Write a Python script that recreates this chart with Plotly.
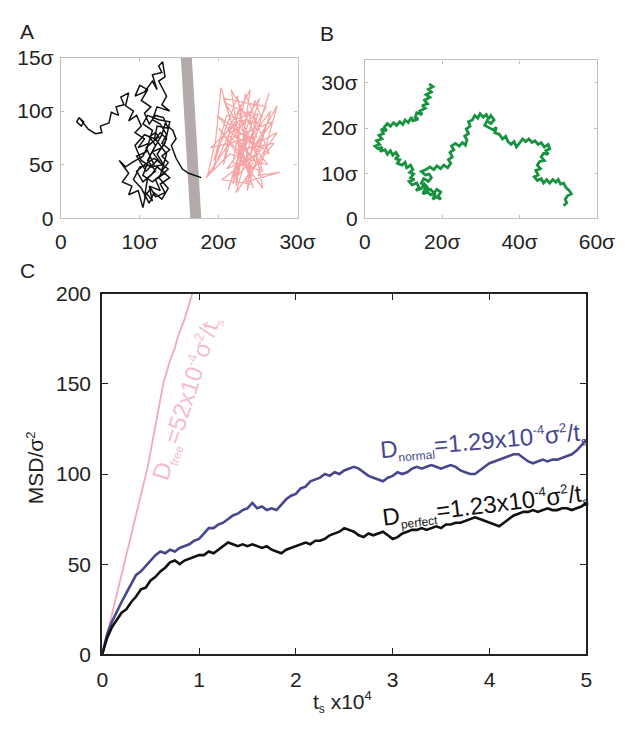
import plotly.graph_objects as go

FONT = "Liberation Sans, Arial, sans-serif"

# ---------------- Panel A : two confined random walks + barrier ----------------
walk_black = [(2.3,9.4),(2.0,9.0),(2.6,8.6),(2.9,9.0),(2.3,9.4),(3.5,8.3),(4.4,7.9),(5.2,8.0),(5.0,8.6),
    (6.1,8.9),(6.4,9.9),(7.3,9.6),(7.0,10.4),(8.0,10.6),(7.6,11.3),(8.6,11.7),(8.2,10.5),(9.2,10.0),
    (8.6,9.1),(9.6,9.6),(10.2,8.6),(9.4,8.0),(10.6,7.4),(9.8,6.6),(11.2,7.0),(10.4,5.8),(9.0,5.2),
    (8.2,4.8),(7.4,5.4),(8.6,4.2),(7.8,3.4),(9.0,3.0),(8.6,2.2),(9.8,2.6),(10.4,1.0),(10.8,2.4),
    (11.6,1.6),(11.2,3.0),(12.6,2.6),(12.0,3.6),(13.2,4.2),(12.2,4.8),(11.4,4.0),(10.4,3.4),(9.6,4.4),
    (10.6,5.0),(11.8,5.6),(12.6,5.2),(11.6,6.2),(12.8,6.6),(13.4,7.4),(12.6,8.0),(11.8,7.2),(12.2,8.6),
    (13.6,8.4),(13.0,9.4),(12.0,9.6),(11.2,8.8),(10.6,9.8),(11.4,10.4),(10.2,11.0),(11.0,12.0),(10.0,12.4),
    (9.4,11.4),(10.6,11.8),(11.6,12.8),(12.2,12.0),(11.6,13.4),(12.8,13.6),(12.4,14.2),(12.9,14.6),
    (13.2,13.2),(12.4,12.8),(13.4,11.4),(12.8,10.6),(13.8,10.0),(12.2,10.4),(11.6,9.2),(12.6,8.8),
    (13.4,7.8),(12.8,7.0),(13.8,6.4),(12.8,5.8),(13.6,5.2),(12.8,4.4),(13.8,3.8),(12.6,3.2),(13.2,2.4),
    (12.0,2.0),(11.4,2.8),(10.6,2.0),(11.0,3.8),(12.0,4.4),(11.0,5.4),(12.0,6.8),(11.2,7.6),(12.0,8.0),
    (12.4,7.6),(10.8,6.6),(11.8,5.0),(10.0,4.8),(9.2,3.6),(10.2,2.8),(11.2,1.4),(11.8,2.4),(12.8,1.8),
    (13.6,2.8),(12.4,3.8),(13.6,4.6),(12.2,5.4),(10.8,4.4),(9.6,5.8),(10.8,6.2),(11.6,8.2),(10.4,8.8),
    (11.0,9.6),(12.4,9.2),(13.8,9.0),(13.2,7.0),(12.2,6.0),(13.0,5.0),(11.4,4.8),(10.2,5.4),(9.4,6.8),
    (10.6,7.8),(12.0,7.4),(13.4,6.0),(12.6,4.0),(11.6,3.4),(10.4,4.0),(11.4,6.0),(12.8,7.8),(13.2,8.8),
    (14.2,8.2),(14.6,7.4),(14.0,6.8),(14.6,5.6),(15.4,4.6),(16.2,4.2),(17.8,3.8)]

walk_pink = [(18.6,4.0),(19.6,7.2),(20.3,12.2),(21.6,9.0),(20.6,5.0),(22.8,10.6),(22.2,3.0),(23.6,8.0),
    (21.2,2.6),(24.6,11.0),(25.4,9.4),(26.4,11.7),(24.0,6.0),(27.4,10.5),(25.0,4.0),(27.8,4.3),(23.4,3.4),
    (26.0,8.6),(21.0,9.6),(19.4,5.4),(22.4,11.4),(24.2,3.2),(20.4,3.6),(25.8,6.6),(22.0,7.6),(26.8,9.0),
    (23.0,5.0),(21.6,12.0),(24.8,7.6),(19.0,6.6),(23.8,10.0),(25.6,2.8),(20.0,8.4),(24.4,4.6),(27.0,7.0),
    (22.6,6.4),(21.8,3.2),(25.2,11.2),(23.2,9.0),(18.4,3.8),(21.4,6.0),(26.2,5.0),(22.8,8.4),(20.8,10.8),
    (24.6,9.4),(23.6,2.6),(26.6,10.0),(21.0,4.6),(25.0,6.0),(22.4,4.0),(24.0,12.0),(20.2,7.0),
    (19.2,4.4),(22.0,9.0),(24.4,2.8),(20.6,11.2),(26.0,10.4),(23.0,6.2),(27.4,8.0),(22.2,2.4),(25.0,9.8),
    (21.2,7.8),(24.6,5.4),(19.8,9.6),(26.4,6.0),(23.4,11.6),(21.8,5.2),(25.6,4.4),(22.6,9.8)]

barrier_x = [15.9, 17.1]
barrier_y = [15.0, 0.0]

a_xticks = [0, 10, 20, 30]
a_xtext = ["0", "10σ", "20σ", "30σ"]
a_yticks = [0, 5, 10, 15]
a_ytext = ["0", "5σ", "10σ", "15σ"]

# ---------------- Panel B : free random walk ----------------
walk_green = [(16.6,29.8),(17.6,29.2),(16.4,28.6),(17.2,28.0),(15.8,27.4),(16.8,26.8),(15.4,26.2),(16.2,25.4),
    (14.8,25.0),(15.6,24.4),(14.2,23.8),(14.8,23.0),(13.4,23.4),(13.0,22.4),(13.8,22.0),(12.4,21.6),(12.0,22.4),
    (11.2,21.2),(10.4,21.8),(9.8,20.8),(9.0,21.4),(8.2,20.6),(7.4,21.2),(6.6,20.4),(5.8,21.0),(5.0,20.2),
    (5.6,19.4),(4.2,19.8),(4.8,18.8),(3.6,18.4),(4.4,17.6),(3.0,17.2),(3.8,16.4),(2.6,16.0),(3.4,15.4),
    (4.4,15.8),(4.0,14.8),(5.2,15.2),(5.8,14.2),(6.6,15.0),(7.2,14.0),(8.0,14.6),(8.6,13.8),(7.8,13.2),
    (9.0,13.0),(8.4,12.2),(9.6,11.8),(10.4,12.4),(10.8,11.2),(11.8,11.8),(12.4,10.8),(11.6,10.2),(12.6,9.8),
    (11.8,9.0),(12.8,8.6),(11.4,8.2),(12.2,7.4),(13.4,7.8),(14.0,6.8),(13.2,6.2),(14.6,6.6),(15.4,7.6),
    (16.2,6.8),(15.6,6.0),(17.0,6.4),(17.8,5.6),(18.6,6.4),(19.6,5.8),(19.0,5.0),(19.6,4.2),(18.4,4.8),
    (17.6,4.2),(18.2,5.6),(17.0,5.2),(16.2,5.8),(15.0,5.4),(15.8,7.2),(14.6,7.8),(15.2,8.8),(16.4,8.2),
    (17.2,9.0),(16.6,9.8),(15.6,9.6),(14.6,10.4),(15.8,10.8),(16.8,11.4),(17.8,10.8),(18.6,11.6),(19.6,11.0),
    (20.4,11.8),(21.4,11.2),(22.2,12.2),(21.6,13.0),(22.6,13.6),(22.0,14.6),(23.0,15.2),(22.4,16.0),
    (23.4,16.6),(24.4,16.0),(25.2,16.8),(26.0,16.2),(26.4,17.4),(25.8,18.2),(26.8,18.8),(26.2,19.8),
    (27.2,20.4),(26.8,21.4),(27.8,21.8),(28.4,22.8),(29.2,22.2),(29.8,23.2),(30.6,22.4),(31.4,23.0),
    (32.0,22.0),(32.6,22.8),(33.4,21.8),(32.6,21.0),(31.6,21.6),(31.0,20.6),(32.0,20.2),(33.2,19.6),
    (34.0,20.2),(33.6,19.0),(34.8,18.6),(35.6,17.6),(36.4,18.2),(37.0,17.0),(37.8,16.4),(38.6,17.0),
    (39.2,15.8),(40.0,16.6),(40.8,17.6),(41.6,17.0),(42.4,17.6),(43.2,16.8),(44.0,17.2),(44.8,16.4),
    (45.6,16.8),(46.4,15.8),(47.4,16.4),(47.8,15.4),(46.8,15.0),(47.4,14.2),(46.2,14.4),(45.6,13.6),
    (46.4,12.8),(45.2,12.6),(44.6,11.8),(45.4,11.0),(44.2,10.6),(44.8,9.6),(43.8,9.2),(44.6,8.4),
    (45.6,8.8),(46.2,7.8),(47.0,8.6),(47.8,7.8),(48.6,8.6),(49.4,8.0),(50.0,8.6),(50.6,7.6),(51.4,7.8),
    (52.0,6.8),(52.8,6.2),(53.4,5.4),(52.4,5.0),(51.8,4.2),(52.2,3.4),(51.4,2.8)]

b_xticks = [0, 20, 40, 60]
b_xtext = ["0", "20σ", "40σ", "60σ"]
b_yticks = [0, 10, 20, 30]
b_ytext = ["0", "10σ", "20σ", "30σ"]

# ---------------- Panel C : MSD curves ----------------
t_free = [0, 0.1, 0.2, 0.3, 0.4, 0.47, 0.55, 0.63, 0.7, 0.75, 0.78, 0.85, 0.93, 0.95]
msd_free = [0, 22, 44, 66, 88, 104, 127, 150, 163, 170, 176, 186, 200, 203]

t_grid = [i * 0.05 for i in range(101)]
msd_perfect = [0, 9, 15, 19, 23, 25, 29, 32, 36, 37, 41, 43, 46, 48, 51, 52, 50, 52, 53, 54,
    55, 55, 57, 56, 58, 60, 62, 61, 60, 61, 60, 61, 60, 59, 60, 58, 57, 56, 58, 59,
    60, 61, 62, 61, 63, 63, 64, 66, 67, 68, 70, 69, 68, 66, 65, 67, 66, 67, 68, 66,
    64, 65, 67, 68, 69, 69, 70, 69, 70, 71, 70, 72, 72, 73, 73, 74, 75, 76, 75, 74,
    73, 72, 71, 73, 75, 77, 78, 79, 79, 80, 79, 80, 81, 80, 80, 81, 81, 80, 81, 82, 84]
msd_normal = [0, 11, 18, 24, 29, 34, 39, 44, 46, 49, 52, 55, 57, 56, 58, 57, 59, 60, 61, 63,
    64, 67, 70, 70, 72, 73, 75, 77, 78, 80, 81, 84, 81, 82, 80, 81, 80, 83, 86, 88,
    89, 92, 93, 96, 97, 98, 100, 99, 101, 100, 102, 103, 104, 103, 101, 99, 98, 97, 96, 98,
    99, 101, 100, 101, 103, 104, 103, 104, 105, 104, 103, 104, 105, 104, 102, 101, 100, 100, 102, 104,
    106, 107, 108, 109, 110, 111, 111, 109, 107, 106, 107, 108, 107, 108, 108, 109, 110, 111, 113, 116, 119]

c_xticks = [0, 1, 2, 3, 4, 5]
c_yticks = [0, 50, 100, 150, 200]

fig = go.Figure()

fig.add_trace(go.Scatter(x=barrier_x, y=barrier_y, mode="lines",
    line=dict(color="#b3aaa9", width=11), xaxis="x", yaxis="y", hoverinfo="skip"))
fig.add_trace(go.Scatter(x=[p[0] for p in walk_pink], y=[p[1] for p in walk_pink], mode="lines",
    line=dict(color="#f6a3a3", width=1.2), xaxis="x", yaxis="y"))
fig.add_trace(go.Scatter(x=[p[0] for p in walk_black], y=[p[1] for p in walk_black], mode="lines",
    line=dict(color="#111111", width=1.5), xaxis="x", yaxis="y"))
fig.add_trace(go.Scatter(x=[p[0] for p in walk_green], y=[p[1] for p in walk_green], mode="lines",
    line=dict(color="#17923f", width=2.8), xaxis="x2", yaxis="y2"))

fig.add_trace(go.Scatter(x=t_free, y=msd_free, mode="lines",
    line=dict(color="#f2a7c6", width=1.8), xaxis="x3", yaxis="y3"))
fig.add_trace(go.Scatter(x=t_grid, y=msd_normal, mode="lines",
    line=dict(color="#47478f", width=2.6), xaxis="x3", yaxis="y3"))
fig.add_trace(go.Scatter(x=t_grid, y=msd_perfect, mode="lines",
    line=dict(color="#111111", width=2.6), xaxis="x3", yaxis="y3"))

tickfont = dict(family=FONT, size=21, color="#222")

def ax(domain, rng, tv, tt, anchor, linecolor, lw, tl, standoff):
    return dict(domain=domain, range=rng, tickvals=tv, ticktext=tt, anchor=anchor,
                showline=True, linecolor=linecolor, linewidth=lw, mirror="ticks",
                ticks="inside", ticklen=tl, tickcolor=linecolor, tickwidth=1.2,
                showgrid=False, zeroline=False, tickfont=tickfont,
                ticklabelstandoff=standoff, fixedrange=True)

W, H = 637, 734
a_xd = [57 / W, 303 / W]; a_yd = [1 - 213 / H, 1 - 47 / H]
b_xd = [373 / W, 614 / W]; b_yd = [1 - 213 / H, 1 - 50 / H]
c_xd = [100 / W, 603 / W]; c_yd = [1 - 663 / H, 1 - 291 / H]

fig.update_layout(
    width=W, height=H, margin=dict(l=0, r=0, t=0, b=0),
    paper_bgcolor="white", plot_bgcolor="white", showlegend=False,
    font=dict(family=FONT, color="#222"),
    xaxis=ax(a_xd, [0, 30], a_xticks, a_xtext, "y", "#bfbfbf", 1.2, 3, 4),
    yaxis=ax(a_yd, [0, 15], a_yticks, a_ytext, "x", "#bfbfbf", 1.2, 3, 2),
    xaxis2=ax(b_xd, [0, 60], b_xticks, b_xtext, "y2", "#bfbfbf", 1.2, 3, 4),
    yaxis2=ax(b_yd, [0, 35], b_yticks, b_ytext, "x2", "#bfbfbf", 1.2, 3, 2),
    xaxis3=ax(c_xd, [0, 5], c_xticks, [str(v) for v in c_xticks], "y3", "#222", 2, 6, 6),
    yaxis3=ax(c_yd, [0, 200], c_yticks, [str(v) for v in c_yticks], "x3", "#222", 2, 6, 5),
)

def sub(t):
    return "<sub><span style='font-size:12px'>" + t + "</span></sub>"

def sup(t):
    return "<sup><span style='font-size:13px'>" + t + "</span></sup>"

ann = []
for txt, x, y in [("A", 22, 20), ("B", 334, 22), ("C", 22, 267)]:
    ann.append(dict(text=txt, x=x / W, y=1 - y / H, xref="paper", yref="paper",
                    showarrow=False, font=dict(family=FONT, size=21, color="#222"),
                    xanchor="center", yanchor="middle"))
ann.append(dict(text="MSD/σ" + sup("2"), x=30 / W, y=1 - 470 / H, xref="paper", yref="paper",
                showarrow=False, textangle=-90, font=dict(family=FONT, size=21, color="#222"),
                xanchor="center", yanchor="middle"))
ann.append(dict(text="t" + sub("s") + " x10" + sup("4"), x=350 / W, y=1 - 712 / H, xref="paper", yref="paper",
                showarrow=False, font=dict(family=FONT, size=21, color="#222"),
                xanchor="center", yanchor="middle"))
ann.append(dict(text="D" + sub("normal") + "=1.29x10" + sup("-4") + "σ" + sup("2") + "/t" + sub("s "),
                x=3.95, y=118, xref="x3", yref="y3", showarrow=False, textangle=-5,
                font=dict(family=FONT, size=24, color="#47478f")))
ann.append(dict(text="D" + sub("perfect") + "=1.23x10" + sup("-4") + "σ" + sup("2") + "/t" + sub("s "),
                x=3.97, y=82, xref="x3", yref="y3", showarrow=False, textangle=-7,
                font=dict(family=FONT, size=24, color="#111111")))
ann.append(dict(text="D" + sub("free") + "=52x10" + sup("-4") + "σ" + sup("2") + "/t" + sub("s"),
                x=0.88, y=142, xref="x3", yref="y3", showarrow=False, textangle=-72,
                font=dict(family=FONT, size=24, color="#f5bcd2")))
fig.update_layout(annotations=ann)

fig.write_html("out.html")
